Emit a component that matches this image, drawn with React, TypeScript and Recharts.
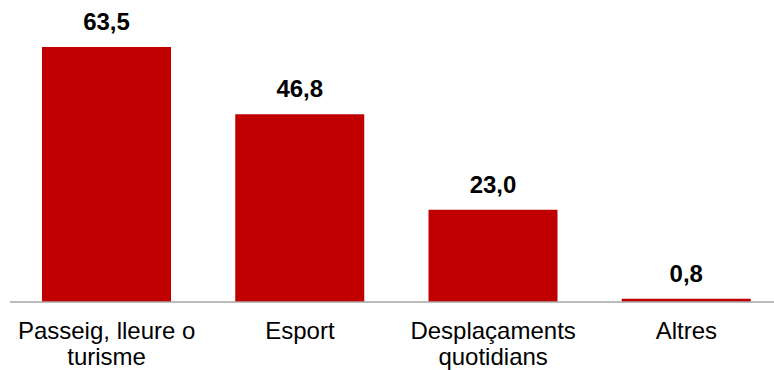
import React from 'react';
import { BarChart, Bar, XAxis, YAxis, LabelList } from 'recharts';

const categories = ['Passeig, lleure o turisme', 'Esport', 'Desplaçaments quotidians', 'Altres'];
const values = [63.5, 46.8, 23.0, 0.8];

const data = categories.map((c, i) => ({ name: c, value: values[i] }));

const FONT = '"Liberation Sans", Arial, sans-serif';
const FONT_SIZE = 24;

let ctx: CanvasRenderingContext2D | null = null;
function measure(s: string): number {
  if (!ctx) {
    const c = document.createElement('canvas');
    ctx = c.getContext('2d');
  }
  if (!ctx) return s.length * FONT_SIZE * 0.5;
  ctx.font = `${FONT_SIZE}px ${FONT}`;
  return ctx.measureText(s).width;
}

function wrap(text: string, maxWidth: number): string[] {
  const words = text.split(' ');
  const lines: string[] = [];
  let cur = '';
  for (const w of words) {
    const test = cur ? cur + ' ' + w : w;
    if (cur && measure(test) > maxWidth) {
      lines.push(cur);
      cur = w;
    } else {
      cur = test;
    }
  }
  if (cur) lines.push(cur);
  return lines;
}

const CategoryTick = (props: any) => {
  const { x, y, payload } = props;
  const lines = wrap(String(payload.value), 190);
  return (
    <text
      x={x}
      y={y + 37}
      textAnchor="middle"
      fontSize={FONT_SIZE}
      fontFamily={FONT}
      fill="#000000"
    >
      {lines.map((l, i) => (
        <tspan key={i} x={x} dy={i === 0 ? 0 : 26}>
          {l}
        </tspan>
      ))}
    </text>
  );
};

const ValueLabel = (props: any) => {
  const { x, y, width, value } = props;
  return (
    <text
      x={x + width / 2}
      y={y - 17}
      textAnchor="middle"
      fontSize={FONT_SIZE}
      fontWeight="bold"
      fontFamily={FONT}
      fill="#000000"
    >
      {Number(value).toFixed(1).replace('.', ',')}
    </text>
  );
};

export default function App() {
  return (
    <div style={{ position: 'absolute', left: 0, top: 0, width: 774, height: 370, overflow: 'hidden', background: '#fff' }}>
      <BarChart width={790} height={370} data={data} margin={{ top: 21, right: 7, left: 10, bottom: 38 }}>
        <XAxis
          dataKey="name"
          height={30}
          axisLine={{ stroke: '#A6A6A6', strokeWidth: 1.5 }}
          tickLine={false}
          tickSize={0}
          tickMargin={0}
          interval={0}
          tick={<CategoryTick />}
        />
        <YAxis hide domain={[0, 70]} />
        <Bar dataKey="value" fill="#C00000" barSize={129} isAnimationActive={false}>
          <LabelList dataKey="value" content={<ValueLabel />} />
        </Bar>
      </BarChart>
    </div>
  );
}
